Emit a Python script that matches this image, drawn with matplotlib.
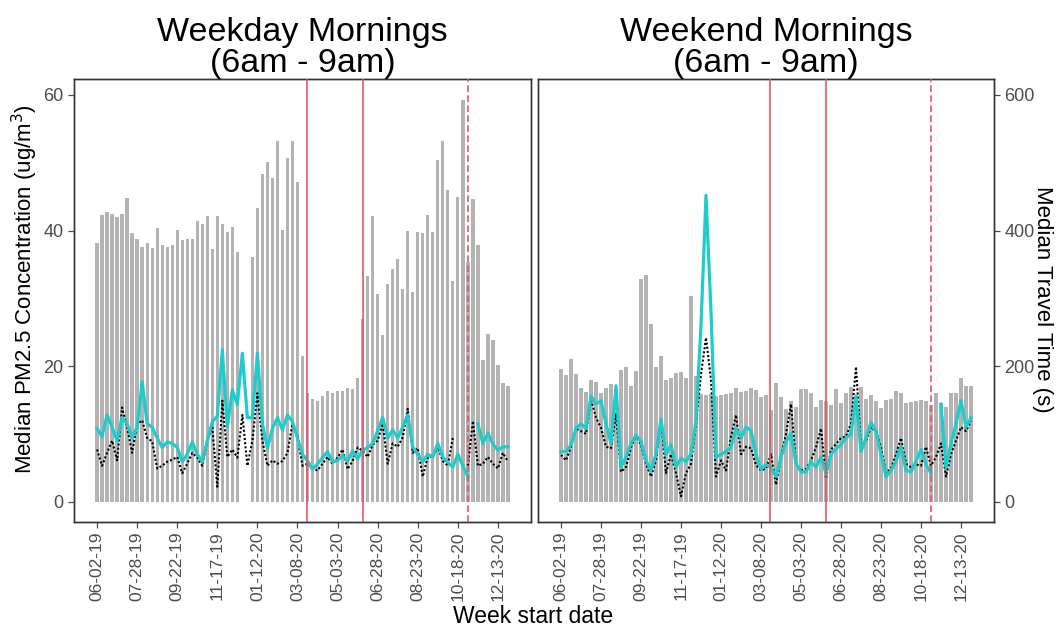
import matplotlib
matplotlib.use("Agg")
import matplotlib.pyplot as plt
import numpy as np

nan = np.nan

# weekly index, week 0 = 06-02-19
n_weeks = 83
tick_pos = [0, 8, 16, 24, 32, 40, 48, 56, 64, 72, 80]
tick_labels = ["06-02-19", "07-28-19", "09-22-19", "11-17-19", "01-12-20", "03-08-20",
               "05-03-20", "06-28-20", "08-23-20", "10-18-20", "12-13-20"]

# event lines (weeks from 06-02-19)
solid_events = [41.8, 53.0]
dashed_events = [74.0]

# median travel time (s)
weekday_travel = [382, 423, 427, 425, 420, 425, 448, 397, 387, 375,
                  382, 374, 403, 379, 376, 379, 401, 386, 388, 388,
                  414, 410, 421, 373, 421, 410, 398, 405, 368, nan,
                  nan, 361, 433, 483, 501, 477, 532, 401, 507, 532,
                  471, 215, 161, 151, 149, 156, 163, 160, 164, 163,
                  167, 166, 182, 269, 333, 422, 306, 246, 321, 343,
                  358, 314, 399, 310, 398, 396, 423, 398, 504, 532,
                  460, 326, 449, 593, 353, 447, 378, 209, 248, 238,
                  201, 175, 171]
weekend_travel = [196, 187, 210, 188, 168, 162, 180, 176, 161, 168,
                  174, 168, 194, 199, 171, 193, 329, 334, 262, 198,
                  215, 180, 183, 190, 191, 182, 303, 186, 159, 157,
                  159, 156, 157, 159, 161, 168, 162, 163, 168, 165,
                  154, 157, 135, 175, 154, 136, 149, 139, 166, 166,
                  161, 140, 150, 148, 143, 166, 145, 161, 169, 156,
                  169, 151, 157, 149, 138, 150, 151, 163, 160, 145,
                  147, 149, 150, 149, 143, 160, 146, 139, 161, 161,
                  183, 170, 171]

# median PM2.5 (ug/m3): cyan series and black dotted series
weekday_cyan = [10.8, 9.6, 12.8, 11.0, 9.0, 12.4, 11.5, 9.4, 11.0, 17.7,
                11.5, 11.0, 9.4, 8.0, 8.8, 8.6, 8.0, 5.9, 7.0, 8.8,
                7.0, 5.9, 9.0, 11.8, 12.6, 22.4, 11.0, 16.5, 14.3, 21.9,
                12.4, 12.4, 21.9, 11.5, 7.9, 10.8, 12.4, 10.6, 12.8, 11.8,
                9.4, 7.0, 6.0, 4.8, 5.6, 6.5, 7.4, 5.9, 6.1, 6.8,
                6.0, 7.5, 6.3, 7.6, 8.0, 8.6, 10.5, 12.4, 9.4, 10.6,
                9.4, 11.0, 12.8, 8.1, 7.0, 5.9, 7.0, 6.6, 8.6, 6.6,
                5.8, 5.1, 7.0, 5.3, 3.7, nan, 11.5, 8.6, 10.1, 8.5,
                7.6, 8.1, 8.1]
weekday_black = [7.7, 5.3, 7.2, 9.0, 6.1, 13.9, 11.0, 7.2, 11.5, 12.0,
                 9.4, 8.9, 4.9, 5.3, 5.9, 6.2, 6.6, 4.2, 5.6, 7.2,
                 6.5, 5.3, 9.0, 11.0, 2.2, 14.9, 6.6, 7.7, 6.5, 12.8,
                 5.3, 9.0, 16.0, 9.0, 5.3, 6.1, 5.6, 6.0, 7.2, 11.5,
                 9.6, 5.3, 5.6, 4.9, 4.6, 5.6, 6.6, 5.6, 6.5, 7.7,
                 4.8, 6.0, 8.0, 7.5, 6.6, 8.4, 9.0, 11.5, 5.6, 8.6,
                 8.1, 9.5, 13.7, 7.2, 7.9, 3.7, 6.6, 6.6, 8.1, 6.0,
                 5.3, 9.4, nan, nan, 5.3, 11.9, 5.3, 5.6, 6.6, 5.6,
                 4.9, 7.2, 5.9]
weekend_cyan = [7.4, 7.4, 8.4, 10.8, 11.5, 10.8, 15.6, 14.4, 14.9, 11.5,
                8.6, 17.1, 5.1, 6.6, 8.6, 9.8, 8.9, 6.1, 4.6, 7.0,
                12.2, 7.0, 8.4, 5.1, 6.4, 5.9, 7.0, 12.0, 26.0, 45.2,
                28.0, 6.6, 7.0, 7.4, 8.1, 10.8, 9.4, 11.0, 10.5, 7.0,
                4.8, 5.5, 5.0, 3.7, 6.6, 8.8, 10.1, 5.6, 4.4, 4.4,
                5.9, 5.1, 6.6, 4.2, 7.0, 7.8, 8.4, 9.4, 10.0, 15.6,
                7.4, 9.4, 11.7, 10.4, 7.0, 3.7, 4.6, 6.0, 8.1, 4.6,
                4.4, 6.0, 7.7, 5.5, 4.2, nan, 14.4, 5.1, 8.6, 11.5,
                14.9, 11.0, 12.4]
weekend_black = [6.9, 6.1, 8.1, 10.8, 10.4, 10.0, 15.1, 12.4, 10.9, 8.1,
                 7.9, 13.0, 4.4, 5.1, 8.0, 9.8, 8.4, 5.6, 3.7, 6.1,
                 12.2, 4.2, 7.0, 4.2, 0.8, 4.2, 5.6, 11.5, 18.8, 24.2,
                 18.0, 3.7, 6.1, 4.6, 9.6, 12.8, 7.0, 8.1, 7.9, 5.4,
                 4.6, 4.9, 7.0, 2.5, 6.6, 10.0, 14.4, 5.6, 4.6, 4.8,
                 6.1, 8.0, 10.8, 3.4, 7.7, 8.5, 9.4, 9.6, 11.5, 19.9,
                 8.1, 9.0, 11.0, 10.4, 8.0, 4.2, 4.9, 7.0, 9.4, 5.6,
                 5.1, 5.5, 5.3, 8.1, 5.3, 6.6, 8.6, 3.7, 7.0, 9.0,
                 11.0, 10.4, 11.9]

plt.rcParams['font.family'] = ['Liberation Sans', 'DejaVu Sans']

TICK_COLOR = '#4D4D4D'
RED = '#E8575A'
CYAN = '#1DCCCC'
BAR = '#B3B3B3'

fig = plt.figure(figsize=(10.59, 6.31), dpi=100)
panels = [
    ("Weekday Mornings\n(6am - 9am)", weekday_travel, weekday_cyan, weekday_black,
     [74 / 1059, 1 - 521.7 / 631, 457 / 1059, 442.7 / 631]),
    ("Weekend Mornings\n(6am - 9am)", weekend_travel, weekend_cyan, weekend_black,
     [538 / 1059, 1 - 521.7 / 631, 456 / 1059, 442.7 / 631]),
]

x = np.arange(n_weeks)
for k, (title, travel, cyan, black, rect) in enumerate(panels):
    ax = fig.add_axes(rect)
    ax2 = ax.twinx()
    ax2.bar(x, travel, width=0.66, color=BAR, zorder=1)
    ax2.set_ylim(-29.5, 623.5)
    ax.set_zorder(ax2.get_zorder() + 1)
    ax.patch.set_visible(False)

    ax.plot(x, black, color='black', linestyle=(0, (1.0, 1.0)), linewidth=1.5, zorder=3)
    ax.plot(x, cyan, color=CYAN, linewidth=2.3, zorder=4)
    for e in solid_events:
        ax.axvline(e, color=RED, linewidth=1.2, zorder=5)
    for e in dashed_events:
        ax.axvline(e, color=RED, linewidth=1.2, linestyle=(0, (4, 2)), zorder=5)

    ax.set_ylim(-2.95, 62.35)
    ax.set_xlim(-4.6, 86.6)
    ax.set_xticks(tick_pos)
    ax.set_xticklabels(tick_labels, rotation=90)
    ax.set_yticks([0, 20, 40, 60])
    ax2.set_yticks([0, 200, 400, 600])
    for a in (ax, ax2):
        a.tick_params(colors=TICK_COLOR, labelsize=13, length=4, width=0.9)
        for s in a.spines.values():
            s.set_color('#333333')
            s.set_linewidth(1.0)
    ax.tick_params(axis='x', labelsize=12.5, pad=3)
    ax.set_title(title, fontsize=24.5, pad=4, linespacing=1.0)

    if k == 0:
        ax2.set_yticks([])
        ax2.tick_params(right=False, labelright=False)
    else:
        ax.tick_params(axis='y', left=False, labelleft=False)

fig.text(25 / 1059, 1 - 289 / 631, "Median PM2.5 Concentration (ug/m$^3$)", rotation=90,
         ha='center', va='center', fontsize=16)
fig.text(1043 / 1059, 0.525, "Median Travel Time (s)", rotation=-90, ha='center', va='center',
         fontsize=16)
fig.text(0.503, 0.004, "Week start date", ha='center', va='bottom', fontsize=16.5)
fig.savefig("out.png", dpi=100)
